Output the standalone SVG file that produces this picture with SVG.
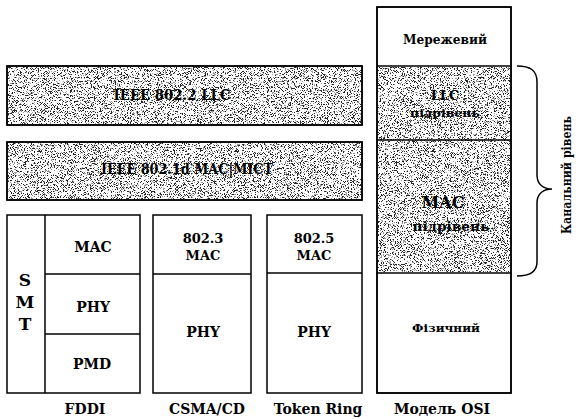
<svg xmlns="http://www.w3.org/2000/svg" width="579" height="419" viewBox="0 0 579 419">
<style>
.box{fill:#fff;stroke:#000;stroke-width:1.5}
.line{fill:none;stroke:#000;stroke-width:1.5}
.sp{fill:#000;filter:url(#speckle)}
text{font-family:"DejaVu Serif",serif;font-weight:bold;fill:#000;text-anchor:middle}
.s11{font-size:11px}
.s12{font-size:12px}
.s13{font-size:13px}
.s14{font-size:14px}
.s15{font-size:15px}
.s16{font-size:16px}
.s17{font-size:17px}
</style>
<defs>
<filter id="speckle" x="0" y="0" width="1" height="1" filterUnits="objectBoundingBox">
<feTurbulence type="fractalNoise" baseFrequency="1.3" numOctaves="2" seed="7"/>
<feColorMatrix type="matrix" values="0 0 0 0 0  0 0 0 0 0  0 0 0 0 0  -4 0 0 0 2.35"/>
<feComponentTransfer><feFuncA type="discrete" tableValues="0 0 0 0.4 0.85"/></feComponentTransfer>
<feComposite in2="SourceAlpha" operator="in"/>
</filter>
</defs>
<g id="llc-bar">
<rect class="box" x="7" y="66" width="355" height="59"/>
<rect class="sp" x="8" y="67" width="353" height="57"/>
<rect class="line" x="7" y="66" width="355" height="59"/>
<text class="s14" x="172" y="100" textLength="117" lengthAdjust="spacingAndGlyphs">IEEE 802.2 LLC</text>
</g>
<g id="mac-bar">
<rect class="box" x="7" y="142" width="355" height="58"/>
<rect class="sp" x="8" y="143" width="353" height="56"/>
<rect class="line" x="7" y="142" width="355" height="58"/>
<text class="s14" x="187" y="174" textLength="172" lengthAdjust="spacingAndGlyphs">IEEE 802.1d MAC|МІСТ</text>
</g>
<g id="fddi">
<rect class="box" x="7" y="215" width="133" height="178"/>
<line class="line" x1="45" y1="215" x2="45" y2="393"/>
<line class="line" x1="45" y1="274" x2="140" y2="274"/>
<line class="line" x1="45" y1="334" x2="140" y2="334"/>
<text class="s17" x="25" y="286">S</text>
<text class="s17" x="25" y="308">M</text>
<text class="s17" x="25" y="330">T</text>
<text class="s14" x="93" y="252">MAC</text>
<text class="s14" x="93" y="312">PHY</text>
<text class="s14" x="92" y="369">PMD</text>
<text class="s14" x="85" y="414">FDDI</text>
</g>
<g id="csma">
<rect class="box" x="153" y="215" width="98" height="178"/>
<line class="line" x1="153" y1="274" x2="251" y2="274"/>
<text class="s13" x="203" y="243">802.3</text>
<text class="s13" x="203" y="260">MAC</text>
<text class="s14" x="203" y="337">PHY</text>
<text class="s14" x="207" y="414">CSMA/CD</text>
</g>
<g id="token-ring">
<rect class="box" x="267" y="215" width="95" height="178"/>
<line class="line" x1="267" y1="273" x2="362" y2="273"/>
<text class="s13" x="314" y="243">802.5</text>
<text class="s13" x="314" y="260">MAC</text>
<text class="s14" x="314" y="337">PHY</text>
<text class="s14" x="318" y="414">Token Ring</text>
</g>
<g id="osi">
<rect class="box" x="377" y="7" width="134" height="386"/>
<rect class="sp" x="378" y="67" width="132" height="205"/>
<line class="line" x1="377" y1="66" x2="511" y2="66"/>
<line class="line" x1="377" y1="140" x2="511" y2="140"/>
<line class="line" x1="377" y1="273" x2="511" y2="273"/>
<rect class="line" x="377" y="7" width="134" height="386"/>
<text class="s12" x="445" y="44" textLength="84" lengthAdjust="spacingAndGlyphs">Мережевий</text>
<text class="s13" x="445" y="100">LLC</text>
<text class="s11" x="445" y="117" textLength="70" lengthAdjust="spacingAndGlyphs">підрівень</text>
<text class="s16" x="443" y="208">MAC</text>
<text class="s13" x="451" y="231" textLength="77" lengthAdjust="spacingAndGlyphs">підрівень</text>
<text class="s11" x="446" y="332" textLength="68" lengthAdjust="spacingAndGlyphs">Фізичний</text>
<text class="s14" x="442" y="414">Модель OSI</text>
</g>
<g id="connectors">
<path class="line" d="M517,66 C530,66 537,70 537,82 L537,175 C537,185 544,189 552,189 C544,189 537,193 537,203 L537,262 C537,272 530,276 517,276"/>
<text class="s13" transform="translate(571,175) rotate(-90)" textLength="118" lengthAdjust="spacingAndGlyphs">Канальний рівень</text>
</g>
</svg>
